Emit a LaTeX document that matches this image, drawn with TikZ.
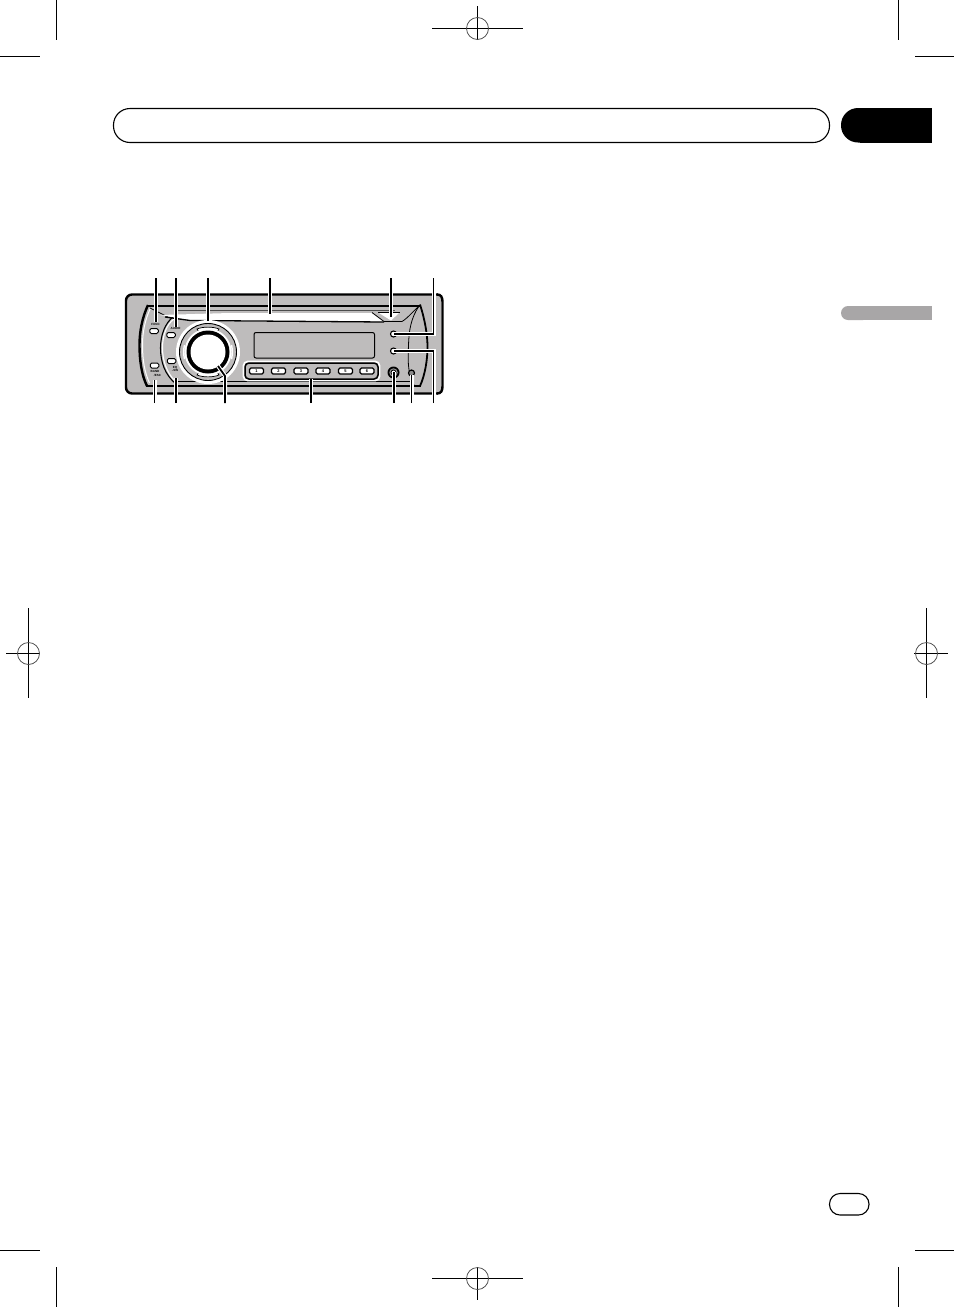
\documentclass[tikz,border=0pt]{standalone}
\usepackage{fontspec}
\setmainfont{Liberation Sans}
\definecolor{panel}{HTML}{BEBCBC}
\definecolor{tabgray}{HTML}{A8A6A7}
\tikzset{
  x=1pt,y=-1pt,
  crop/.style={line width=0.9pt,black},
  pill/.style={line width=1.1pt,draw=black,fill=white},
  halo/.style={line width=4pt,white},
  lead/.style={line width=1.8pt,black},
  dev/.style={line width=1.8pt,black},
  thin/.style={line width=0.8pt,black},
  smallbtn/.style={draw=black,line width=1pt,fill=white,rounded corners=1.5pt,minimum width=8.5pt,minimum height=5pt,inner sep=0pt},
  preset/.style={draw=black,line width=1.1pt,fill=white,rounded corners=1.5pt,minimum width=14pt,minimum height=6pt,inner sep=0pt,font=\fontsize{4}{4}\selectfont\bfseries},
  tiny/.style={inner sep=0pt,font=\fontsize{3}{3.4}\selectfont\bfseries,align=center},
  roundbtn/.style={circle,draw=black,line width=1.1pt,fill=white,minimum size=6pt,inner sep=0pt}
}
\begin{document}
\begin{tikzpicture}
\useasboundingbox (0,0) rectangle (954,1307);
\fill[white] (0,0) rectangle (954,1307);
% corner crop marks
\draw[crop] (56.5,0)--(56.5,39.5); \draw[crop] (0,56.5)--(39.5,56.5);
\draw[crop] (898.5,0)--(898.5,39.5); \draw[crop] (915,56.5)--(954,56.5);
\draw[crop] (56.5,1267)--(56.5,1307); \draw[crop] (0,1250.5)--(39.5,1250.5);
\draw[crop] (898.5,1267)--(898.5,1307); \draw[crop] (915,1250.5)--(954,1250.5);
% registration marks
\draw[crop] (432,28.5)--(523,28.5); \draw[crop] (477.5,6)--(477.5,39);
\draw[line width=.7pt,black!75] (477.5,28.5) circle (11);
\draw[crop] (432,1278.5)--(523,1278.5); \draw[crop] (477.5,1268)--(477.5,1300);
\draw[line width=.7pt,black!75] (477.5,1278.5) circle (11);
\draw[crop] (6,653.5)--(40,653.5); \draw[crop] (28.5,608)--(28.5,698);
\draw[line width=.7pt,black!75] (28.5,653.5) circle (11);
\draw[crop] (914,653.5)--(948,653.5); \draw[crop] (926.5,608)--(926.5,698);
\draw[line width=.7pt,black!75] (926.5,653.5) circle (11);
% header
\draw[pill,rounded corners=16.5pt] (113.5,108.5) rectangle (829.5,142.5);
\fill[black,rounded corners=17pt] (880,108) -- (841,108) -- (841,142.5) -- (880,142.5) -- cycle;
\fill[black] (860,108) rectangle (932,142.5);
\fill[tabgray,rounded corners=7pt] (870,306) -- (841,306) -- (841,320) -- (870,320) -- cycle;
\fill[tabgray] (855,306) rectangle (932,320);
\draw[pill,rounded corners=10.5pt] (829.5,1193.5) rectangle (869,1215);
% device body
\filldraw[panel,draw=black,line width=2.4pt,rounded corners=6pt] (438,294.5) -- (126,294.5) -- (126,393.5) -- (438,393.5);
\fill[panel] (425,296) rectangle (441.4,392);
\draw[line width=2.4pt,black] (437,294.5) .. controls (441,294.5) and (442.5,297) .. (442.5,302) -- (442.5,386) .. controls (442.5,391) and (441,393.5) .. (437,393.5);
% rails
\draw[line width=2pt,black] (148,305.5) -- (421,305.5);
\draw[line width=.8pt,black!70] (175,310) -- (395,310);
\draw[line width=2pt,black] (146,385.5) -- (421,385.5);
\draw[line width=.8pt,black] (176,381) -- (414,381);
% faceplate outer curves
\draw[line width=2.4pt,black] (148,305) .. controls (142,318) and (139.5,332) .. (139.5,345) .. controls (139.5,360) and (141.5,375) .. (147,386);
\draw[line width=1pt,white] (150.5,308) .. controls (145,320) and (142.5,332) .. (142.5,345) .. controls (142.5,360) and (144.5,372) .. (149.5,383);
\draw[dev] (420,304.5) .. controls (425,320) and (427.5,335) .. (427.5,347) .. controls (427.5,360) and (425,375) .. (420,386);
\draw[thin] (414,385) .. controls (407,372) and (408,358) .. (408.5,345) .. controls (409,330) and (411,318) .. (419,306);
% inner curve left of knob
\draw[line width=1.1pt,black] (174,316) .. controls (165,323) and (160.5,335) .. (160.5,348) .. controls (160.5,362) and (165,375) .. (176,384);
\draw[line width=1.1pt,white] (174,319) .. controls (166,325) and (162.5,336) .. (162.5,348) .. controls (162.5,361) and (167,373) .. (175,381);
\draw[thin] (150,308) -- (168,317);
% disc slot
\fill[white] (160,315) -- (230,313) -- (372,313) -- (384,321.5) -- (240,321.5) -- (190,320) -- cycle;
\draw[line width=1.3pt,black] (165,317) -- (190,320.5) -- (384,322);
\fill[white] (379,313) -- (399,313) -- (391,320.5) -- cycle;
\draw[thin] (372,312.5) -- (384,321.5) -- (402,321.5) .. controls (408,318) and (414,310) .. (420,305.5);
\draw[thin] (378,312.5) -- (400,312.5);
% display
\draw[line width=1pt,black,fill=panel,rounded corners=2pt] (254,332.5) rectangle (374.5,358);
% knob
\node[circle,fill=white,minimum size=64pt,inner sep=0pt] (ringout) at (208,352) {};
\node[circle,fill=panel,draw=black,line width=.9pt,minimum size=57pt,inner sep=0pt] (ringmid) at (208,352) {};
\fill[white,draw=black,line width=.7pt] (197,329) .. controls (203,326.5) and (213,326.5) .. (219,329) -- (217,332) .. controls (212,330) and (204,330) .. (199,332) -- cycle;
\fill[white,draw=black,line width=.7pt] (197,375) .. controls (203,377.5) and (213,377.5) .. (219,375) -- (217,372) .. controls (212,374) and (204,374) .. (199,372) -- cycle;
\draw[white,line width=1.4pt] (184.5,345) .. controls (183.5,349) and (183.5,355) .. (184.5,359);
\draw[white,line width=1.4pt] (231.5,345) .. controls (232.5,349) and (232.5,355) .. (231.5,359);
\node[circle,fill=white,minimum size=47pt,inner sep=0pt] (knobhalo) at (208,352) {};
\node[circle,fill=black,minimum size=43pt,inner sep=0pt] (knobring) at (208,352) {};
\node[circle,fill=white,minimum size=35pt,inner sep=0pt] (knob) at (208,352) {};
% left buttons and labels
\node[smallbtn] (bFunc) at (154,331) {};
\node[smallbtn] (bAudio) at (171,335) {};
\node[smallbtn] (bBand) at (154.5,365.5) {};
\node[smallbtn] (bDisp) at (171.5,361) {};
\node[tiny] (lFunc) at (155.5,324.5) {FUNC};
\node[tiny] (lAudio) at (175.5,328.5) {AUDIO};
\node[tiny] (lBand) at (155,373.5) {BAND\\[-.3pt]\hspace*{5pt}/ESC};
\node[tiny] (lDisp) at (175,369) {EQ\\[-.3pt]--SW};
% presets
\draw[line width=1.6pt,white,rounded corners=4pt] (243.5,361.5) rectangle (379.5,380.5);
\node[draw=black,line width=1.5pt,rounded corners=4pt,fill=panel,minimum width=133pt,minimum height=16pt,inner sep=0pt] (bar) at (311.5,371) {};
\foreach \n/\px in {1/256.5,2/278.5,3/301,4/323,5/345.5,6/367}{
  \node[preset] (p\n) at (\px,371) {\n};
}
% right buttons
\node[roundbtn] (bUp) at (393.5,334) {};
\node[roundbtn] (bDn) at (393.5,351) {};
\node[circle,fill=black,minimum size=12pt,inner sep=0pt] (jack) at (393.5,372.5) {};
\node[circle,fill=black!45,minimum size=8.5pt,inner sep=0pt] (jackmid) at (393.5,372.5) {};
\node[circle,fill=white,draw=black,line width=.8pt,minimum size=5pt,inner sep=0pt] (jackin) at (393.5,372.5) {};
\node[circle,draw=black,line width=1.2pt,fill=black!45,minimum size=6pt,inner sep=0pt] (sensor) at (411.5,373) {};
% leader ends
\foreach \nm/\px/\py in {t1/156/278,t2/176/278,t3/208/278,t4/270/278,t5/391/278,t6/433.5/278,
 b1/154.5/403,b2/176/403,b3/225/403,b4/311/403,b5/394/403,b6/411.5/403,b7/433.5/403,
 e1/156/322,e2/176/327,e3/208/321,e4/270/313.5,e5/391/317,c6/433.5/334,e6/394/334,
 f1/154.5/380,f2/176/378,k3/225/376,f3/218/366,f4/311/379,f5/394/372,f6/411.5/375,c7/433.5/351,e7/394/351}{
  \coordinate (\nm) at (\px,\py);
}
\foreach \a/\b in {t1/e1,t2/e2,t3/e3,t4/e4,t5/e5,b1/f1,b2/f2,b4/f4,b5/f5,b6/f6}{
  \draw[halo] (\a) -- (\b);
}
\draw[halo] (t6) -- (c6) -- (e6);
\draw[halo] (b7) -- (c7) -- (e7);
\draw[halo] (b3) -- (k3) -- (f3);
\foreach \a/\b in {t1/e1,t2/e2,t3/e3,t4/e4,t5/e5,b1/f1,b2/f2,b4/f4,b5/f5,b6/f6}{
  \draw[lead] (\a) -- (\b);
}
\draw[lead] (t6) -- (c6) -- (e6);
\draw[lead] (b7) -- (c7) -- (e7);
\draw[lead] (b3) -- (k3) -- (f3);
\end{tikzpicture}
\end{document}
